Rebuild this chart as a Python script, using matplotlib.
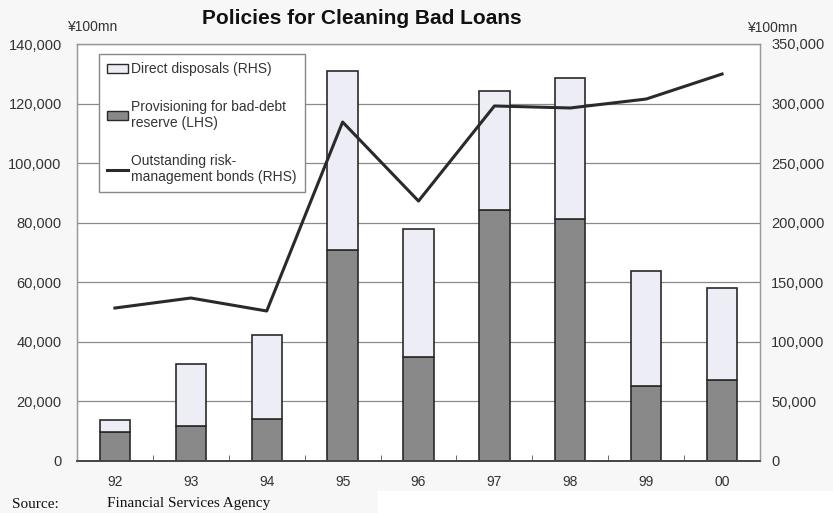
import matplotlib
matplotlib.use("Agg")
import matplotlib.pyplot as plt
from matplotlib.patches import Patch, Rectangle
from matplotlib.lines import Line2D
import numpy as np

plt.rcParams['font.family'] = ['Liberation Sans', 'DejaVu Sans']

years = ["92", "93", "94", "95", "96", "97", "98", "99", "00"]
provisioning = [9700, 11700, 14100, 71000, 34900, 84200, 81200, 25200, 27200]
direct_disposals = [4100, 20900, 28200, 59800, 43000, 40000, 47400, 38600, 30900]
risk_bonds = [128400, 136800, 125900, 284500, 218200, 298000, 296300, 303800, 324800]
lhs_ticks = [0, 20000, 40000, 60000, 80000, 100000, 120000, 140000]
rhs_ticks = [0, 50000, 100000, 150000, 200000, 250000, 300000, 350000]

bg = '#f7f7f7'
dark = '#898989'
light = '#ededf5'
edge = '#2a2a2a'
txt = '#333333'

fig = plt.figure(figsize=(8.33, 5.13), dpi=100, facecolor=bg)
ax = fig.add_axes([77/833, 1-461/513, (760-77)/833, (461-44)/513])
ax.set_facecolor('white')
ax2 = ax.twinx()

x = np.arange(len(years)) + 0.5
w = 0.40
ax.bar(x, provisioning, width=w, color=dark, edgecolor=edge, linewidth=1.2, zorder=3)
ax.bar(x, direct_disposals, width=w, bottom=provisioning, color=light, edgecolor=edge,
       linewidth=1.2, zorder=3)
ax2.plot(x, risk_bonds, color=edge, linewidth=2.2, zorder=4)

ax.set_xlim(0, len(years))
ax.set_ylim(0, 140000)
ax2.set_ylim(0, 350000)
ax.set_yticks(lhs_ticks)
ax.set_yticklabels([f"{v:,}" for v in lhs_ticks], color=txt, fontsize=10.5)
ax2.set_yticks(rhs_ticks)
ax2.set_yticklabels([f"{v:,}" for v in rhs_ticks], color=txt, fontsize=10.5)
ax.set_xticks(x)
ax.set_xticklabels(years, color=txt, fontsize=10)
ax.set_xticks(np.arange(1, len(years)), minor=True)
ax.tick_params(axis='x', which='major', length=0, pad=10)
ax.tick_params(axis='x', which='minor', direction='in', length=4, color='#555555')
ax.tick_params(axis='y', length=0, pad=11)
ax2.tick_params(axis='y', length=0, pad=8)
ax.grid(axis='y', color='#8a8a8a', linewidth=0.9, zorder=0)
ax.set_axisbelow(True)
ax2.set_zorder(ax.get_zorder() + 1)
ax2.patch.set_visible(False)

for a in (ax, ax2):
    for s in ['left', 'right', 'top']:
        a.spines[s].set_color('#999999')
        a.spines[s].set_linewidth(0.9)
    a.spines['bottom'].set_color('#444444')
    a.spines['bottom'].set_linewidth(1.2)

handles = [Patch(facecolor=light, edgecolor=edge, linewidth=1.0),
           Patch(facecolor=dark, edgecolor=edge, linewidth=1.0),
           Line2D([0], [0], color=edge, linewidth=2.2)]
labels = ["Direct disposals (RHS)",
          "Provisioning for bad-debt\nreserve (LHS)",
          "Outstanding risk-\nmanagement bonds (RHS)"]
leg = ax2.legend(handles, labels, loc='upper left', bbox_to_anchor=(0.032, 0.976),
                 frameon=True, fancybox=False, edgecolor='#888888', framealpha=1,
                 fontsize=10, labelspacing=1.7, handlelength=1.5, handleheight=0.6,
                 handletextpad=0.25, borderpad=0.6, borderaxespad=0)
for t in leg.get_texts():
    t.set_color(txt)
leg.get_frame().set_linewidth(1.0)

fig.text(362/833, 1-19/513, "Policies for Cleaning Bad Loans", ha='center', va='center',
         fontsize=15, fontweight='bold', color='#111111')
fig.text(67/833, 1-27/513, "¥100mn", ha='left', va='center', fontsize=10, color=txt)
fig.text(747/833, 1-28/513, "¥100mn", ha='left', va='center', fontsize=10, color=txt)

fig.patches.append(Rectangle((378/833, 0), 1-378/833, 22/513, transform=fig.transFigure,
                             facecolor='white', edgecolor='none', zorder=0))
fig.text(12/833, 1-504/513, "Source:", ha='left', va='center',
         fontsize=11, family='Liberation Serif', color='#111111')
fig.text(107/833, 1-504/513, "Financial Services Agency", ha='left', va='center',
         fontsize=11, family='Liberation Serif', color='#111111')

fig.savefig("out.png", dpi=100, facecolor=bg)
